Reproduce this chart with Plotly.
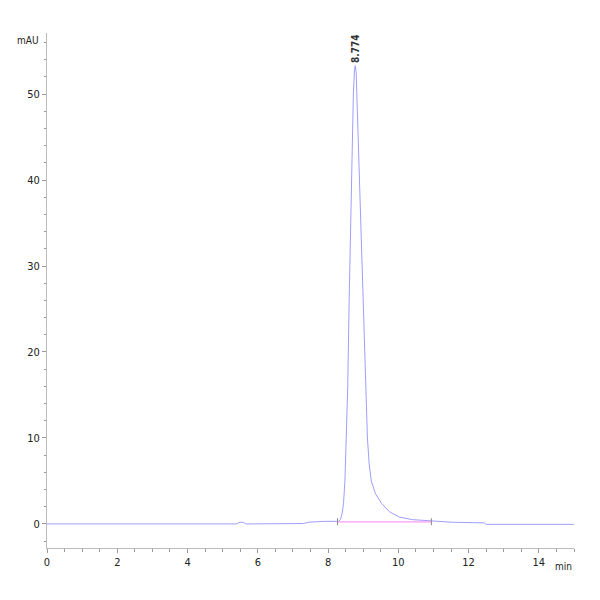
import plotly.graph_objects as go

# chromatogram trace (min, mAU)
time = [0.0, 5.40, 5.46, 5.53, 5.60, 5.66, 7.30, 7.45, 7.90, 8.20, 8.30,
        8.35, 8.40, 8.44, 8.48, 8.51, 8.56, 8.60, 8.64, 8.68, 8.72, 8.75,
        8.774, 8.80, 8.84, 8.88, 8.92, 8.99, 9.06, 9.12, 9.17, 9.23, 9.35,
        9.52, 9.75, 10.03, 10.40, 10.88, 11.50, 12.45, 12.50, 15.0]
signal = [0.0, 0.0, 0.15, 0.2, 0.15, 0.0, 0.05, 0.2, 0.3, 0.35, 0.3,
          0.5, 1.2, 2.4, 5.0, 9.0, 16.0, 26.0, 35.7, 44.0, 50.0, 52.7,
          53.3, 52.5, 47.0, 41.0, 35.7, 25.0, 16.0, 10.0, 7.0, 5.0, 3.5,
          2.4, 1.4, 0.8, 0.5, 0.35, 0.2, 0.12, -0.05, -0.05]

# integration baseline
base_t = [8.27, 10.94]
base_y = [0.25, 0.25]

peak_t = 8.774
peak_y = 53.3
peak_label = "8.774"

font = "DejaVu Sans Condensed, Liberation Sans Narrow, Arial Narrow, sans-serif"

fig = go.Figure()
fig.add_trace(go.Scatter(x=time, y=signal, mode="lines",
                         line=dict(color="#9e9eff", width=1), hoverinfo="skip"))
fig.add_trace(go.Scatter(x=base_t, y=base_y, mode="lines+markers",
                         line=dict(color="#ff9cf0", width=1.2),
                         marker=dict(symbol="line-ns", size=5,
                                     line=dict(color="#888888", width=1)),
                         hoverinfo="skip"))

fig.add_annotation(x=peak_t, y=peak_y, text="<b>" + peak_label + "</b>",
                   textangle=-90, showarrow=False, yanchor="bottom", yshift=1,
                   font=dict(family=font, size=10, color="#333333"))
fig.add_annotation(xref="paper", yref="paper", x=-0.012, y=1.0, text="mAU",
                   showarrow=False, xanchor="right",
                   font=dict(family=font, size=10, color="#222222"))
fig.add_annotation(xref="paper", yref="paper", x=1.0, y=-0.022, text="min",
                   showarrow=False, xanchor="right", yanchor="top",
                   font=dict(family=font, size=10, color="#222222"))

# page body adds an 8px offset, so the figure is a little smaller
fig.update_layout(
    width=592, height=592,
    margin=dict(l=39, r=26, t=25, b=52),
    paper_bgcolor="white", plot_bgcolor="white",
    showlegend=False,
    font=dict(family=font, size=11, color="#222222"),
)
fig.update_xaxes(range=[0, 15], showgrid=False, zeroline=False,
                 showline=True, linecolor="#bbbbbb", linewidth=1,
                 ticks="outside", ticklen=4, tickcolor="#999999",
                 tickvals=[0, 2, 4, 6, 8, 10, 12, 14],
                 minor=dict(dtick=0.5, ticks="outside", ticklen=3,
                            tickcolor="#999999"))
fig.update_yaxes(range=[-2.8, 57.1], showgrid=False, zeroline=False,
                 showline=True, linecolor="#bbbbbb", linewidth=1,
                 ticks="outside", ticklen=4, tickcolor="#999999",
                 tickvals=[0, 10, 20, 30, 40, 50],
                 minor=dict(dtick=2, ticks="outside", ticklen=2,
                            tickcolor="#999999"))

fig.write_html("out.html")
